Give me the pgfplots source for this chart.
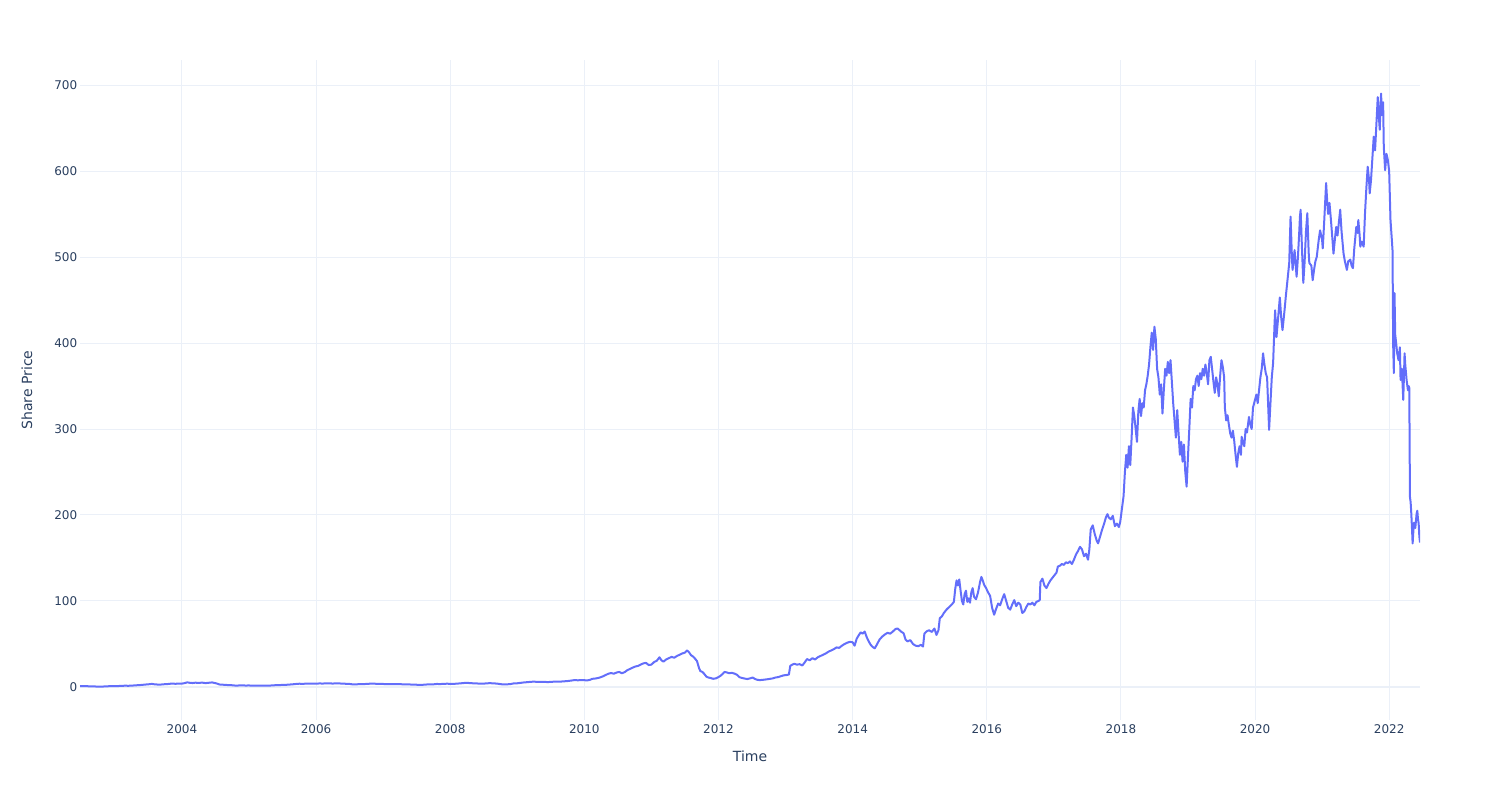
\documentclass[border=0pt]{standalone}
\usepackage{fontspec}
\setmainfont{DejaVu Sans}
\usepackage{pgfplots}
\pgfplotsset{compat=1.18}
\definecolor{linec}{RGB}{99,110,250}
\definecolor{gridc}{RGB}{235,240,248}
\definecolor{textc}{RGB}{42,63,95}
\begin{document}
\begin{tikzpicture}
\path[use as bounding box] (0,0) rectangle (750pt,400pt);
\begin{axis}[
 at={(40pt,40pt)}, anchor=south west, scale only axis, width=670pt, height=330pt,
 xmin=2002.48, xmax=2022.46, ymin=-38.4, ymax=729.1,
 axis line style={draw=none}, major tick length=0pt,
 xtick={2004,2006,...,2022}, ytick={0,100,...,700},
 xmajorgrids, ymajorgrids, major grid style={draw=gridc, line width=0.5pt},
 extra y ticks={0}, extra y tick labels={}, extra y tick style={major grid style={draw=gridc, line width=1pt}},
 /pgf/number format/1000 sep={}, /pgf/number format/assume math mode=true,
 tick label style={font=\fontsize{6}{7}\selectfont, text=textc},
 xticklabel style={anchor=north, inner sep=0pt, yshift=-1.9pt},
 yticklabel style={anchor=east, inner sep=0pt, xshift=-1.2pt},
 xlabel={Time}, ylabel={Share Price},
 every axis x label/.style={at={(axis description cs:0.5,-0.0545)}, anchor=center, font=\fontsize{7}{8}\selectfont, text=textc},
 every axis y label/.style={at={(axis description cs:-0.0396,0.5)}, rotate=90, anchor=center, font=\fontsize{7}{8}\selectfont, text=textc},
]
\addplot[linec, line width=1pt, line join=round, mark=none] table {
x y
2002.48 1.15
2002.52 1.05
2002.56 0.95
2002.60 0.85
2002.65 0.80
2002.70 0.60
2002.75 0.45
2002.80 0.50
2002.85 0.60
2002.90 0.85
2002.95 0.90
2003.00 0.95
2003.05 1.10
2003.10 1.30
2003.15 1.50
2003.20 1.40
2003.25 1.55
2003.30 1.90
2003.35 2.10
2003.40 2.40
2003.45 2.80
2003.50 3.10
2003.55 3.60
2003.60 3.00
2003.65 2.80
2003.70 2.90
2003.75 3.30
2003.80 3.50
2003.85 4.00
2003.90 3.70
2003.95 3.90
2004.00 3.95
2004.04 4.50
2004.08 5.40
2004.12 4.80
2004.16 4.60
2004.20 5.00
2004.25 4.70
2004.30 5.10
2004.35 4.50
2004.40 4.90
2004.45 5.30
2004.50 4.40
2004.53 3.80
2004.56 2.90
2004.60 2.70
2004.65 2.40
2004.70 2.20
2004.75 2.00
2004.80 1.60
2004.85 1.75
2004.90 1.80
2004.95 1.70
2005.00 1.75
2005.05 1.60
2005.10 1.50
2005.15 1.55
2005.20 1.65
2005.25 1.50
2005.30 1.60
2005.35 1.85
2005.40 2.10
2005.45 2.20
2005.50 2.40
2005.55 2.50
2005.60 2.80
2005.65 3.10
2005.70 3.50
2005.75 3.80
2005.80 3.60
2005.85 3.90
2005.90 3.80
2005.95 3.95
2006.00 3.90
2006.05 4.10
2006.10 4.00
2006.15 4.20
2006.20 4.15
2006.25 4.00
2006.30 4.20
2006.35 4.10
2006.40 3.90
2006.45 3.70
2006.50 3.50
2006.55 3.00
2006.60 3.10
2006.65 3.30
2006.70 3.40
2006.75 3.50
2006.80 3.80
2006.85 3.90
2006.90 3.70
2006.95 3.75
2007.00 3.50
2007.05 3.30
2007.10 3.40
2007.15 3.20
2007.20 3.30
2007.25 3.25
2007.30 3.10
2007.35 3.00
2007.40 2.90
2007.45 2.80
2007.50 2.60
2007.55 2.40
2007.60 2.60
2007.65 2.90
2007.70 3.00
2007.75 3.10
2007.80 3.50
2007.85 3.40
2007.90 3.60
2007.95 3.80
2008.00 3.70
2008.05 3.60
2008.10 3.90
2008.15 4.20
2008.20 4.60
2008.25 4.90
2008.30 4.40
2008.35 4.30
2008.40 4.10
2008.45 3.80
2008.50 3.90
2008.55 4.30
2008.60 4.40
2008.65 4.20
2008.70 3.90
2008.75 3.30
2008.80 2.90
2008.85 3.10
2008.90 3.40
2008.95 4.20
2009.00 4.30
2009.05 4.80
2009.10 5.30
2009.15 5.60
2009.20 6.00
2009.25 6.20
2009.30 5.90
2009.35 5.80
2009.40 6.00
2009.45 5.70
2009.50 5.90
2009.55 6.20
2009.60 6.10
2009.65 6.30
2009.70 6.60
2009.75 6.90
2009.80 7.40
2009.85 8.00
2009.90 7.80
2009.95 7.90
2010.00 7.90
2010.04 7.60
2010.08 8.20
2010.12 9.50
2010.16 9.80
2010.20 10.40
2010.24 11.20
2010.28 12.50
2010.32 14.00
2010.36 15.50
2010.40 16.20
2010.44 15.40
2010.48 16.80
2010.52 17.50
2010.56 16.00
2010.60 17.20
2010.64 19.50
2010.68 21.00
2010.72 22.50
2010.76 23.80
2010.80 24.50
2010.84 26.00
2010.88 27.50
2010.92 28.00
2010.96 25.50
2011.00 26.00
2011.04 29.00
2011.08 30.50
2011.12 34.50
2011.15 31.00
2011.18 29.50
2011.22 32.00
2011.26 33.50
2011.30 35.00
2011.34 34.00
2011.38 36.00
2011.42 37.50
2011.46 39.00
2011.50 40.00
2011.53 42.50
2011.56 40.50
2011.59 37.00
2011.62 35.50
2011.65 33.00
2011.68 30.00
2011.71 22.00
2011.73 18.50
2011.76 17.50
2011.79 15.00
2011.82 12.00
2011.85 11.00
2011.88 10.50
2011.92 9.50
2011.96 10.00
2012.00 11.50
2012.03 13.00
2012.06 15.00
2012.09 17.50
2012.12 17.00
2012.16 16.00
2012.20 16.50
2012.24 15.50
2012.28 14.00
2012.31 11.50
2012.35 10.50
2012.39 9.80
2012.43 9.20
2012.47 10.00
2012.51 11.00
2012.54 9.50
2012.57 8.50
2012.61 8.00
2012.65 8.20
2012.69 8.60
2012.73 9.00
2012.77 9.50
2012.81 10.00
2012.85 11.00
2012.89 11.50
2012.93 12.50
2012.97 13.50
2013.02 14.00
2013.05 14.50
2013.07 24.50
2013.10 26.00
2013.13 27.00
2013.17 26.00
2013.21 26.50
2013.25 25.00
2013.29 29.00
2013.32 32.50
2013.36 31.00
2013.40 33.50
2013.44 32.00
2013.48 34.50
2013.52 36.00
2013.56 37.50
2013.60 39.00
2013.64 41.00
2013.68 42.50
2013.72 44.00
2013.76 46.00
2013.80 45.50
2013.84 48.00
2013.88 50.00
2013.92 51.50
2013.96 52.50
2014.00 52.00
2014.03 48.00
2014.06 56.00
2014.09 60.00
2014.12 63.50
2014.15 62.00
2014.18 64.50
2014.21 58.00
2014.24 53.00
2014.27 49.00
2014.30 46.50
2014.33 45.00
2014.36 49.00
2014.40 55.00
2014.44 58.50
2014.48 61.00
2014.52 63.00
2014.56 62.00
2014.60 64.50
2014.64 67.50
2014.67 68.00
2014.70 66.00
2014.73 64.00
2014.76 62.50
2014.79 55.00
2014.82 53.00
2014.86 54.50
2014.90 50.00
2014.94 48.00
2014.98 47.50
2015.02 49.00
2015.05 47.00
2015.07 62.00
2015.10 64.50
2015.14 66.00
2015.18 64.00
2015.22 68.00
2015.25 60.50
2015.28 66.00
2015.30 80.00
2015.33 82.00
2015.36 86.00
2015.40 90.00
2015.44 93.00
2015.48 96.00
2015.51 99.00
2015.53 114.00
2015.55 124.00
2015.57 118.00
2015.59 125.00
2015.61 112.00
2015.63 100.00
2015.65 96.00
2015.67 108.00
2015.69 112.00
2015.71 99.00
2015.73 103.00
2015.75 98.00
2015.77 110.00
2015.79 115.00
2015.81 105.00
2015.84 102.00
2015.87 110.00
2015.90 122.00
2015.92 128.00
2015.94 124.00
2015.96 119.00
2015.99 115.00
2016.02 110.00
2016.05 106.00
2016.08 92.00
2016.11 84.00
2016.14 91.00
2016.17 97.00
2016.20 95.00
2016.23 102.00
2016.26 108.00
2016.29 100.00
2016.32 92.00
2016.35 90.00
2016.38 96.00
2016.41 101.00
2016.44 94.00
2016.47 98.00
2016.50 96.00
2016.53 86.00
2016.56 88.00
2016.59 93.00
2016.62 97.00
2016.65 96.00
2016.68 98.00
2016.71 95.00
2016.74 99.00
2016.77 100.00
2016.79 101.00
2016.80 122.00
2016.83 126.00
2016.86 118.00
2016.89 115.00
2016.92 120.00
2016.95 124.00
2016.98 127.00
2017.01 130.00
2017.04 133.00
2017.06 140.00
2017.09 141.00
2017.12 143.00
2017.15 142.00
2017.18 145.00
2017.21 144.00
2017.24 146.00
2017.27 143.00
2017.30 148.00
2017.33 154.00
2017.36 158.00
2017.39 163.00
2017.42 160.00
2017.45 152.00
2017.48 155.00
2017.51 148.00
2017.53 160.00
2017.55 183.00
2017.58 188.00
2017.61 178.00
2017.64 170.00
2017.66 167.00
2017.69 175.00
2017.72 183.00
2017.75 190.00
2017.78 198.00
2017.80 201.00
2017.82 197.00
2017.85 195.00
2017.88 199.00
2017.91 187.00
2017.94 190.00
2017.97 186.00
2017.99 192.00
2018.02 210.00
2018.04 222.00
2018.06 250.00
2018.08 270.00
2018.10 255.00
2018.12 280.00
2018.14 258.00
2018.16 290.00
2018.18 325.00
2018.20 315.00
2018.22 300.00
2018.24 285.00
2018.26 320.00
2018.28 335.00
2018.30 315.00
2018.32 330.00
2018.34 325.00
2018.36 345.00
2018.38 352.00
2018.40 362.00
2018.42 375.00
2018.44 395.00
2018.46 412.00
2018.48 392.00
2018.50 419.00
2018.52 405.00
2018.54 370.00
2018.56 360.00
2018.58 340.00
2018.60 352.00
2018.62 318.00
2018.64 345.00
2018.66 370.00
2018.68 362.00
2018.70 378.00
2018.72 365.00
2018.74 380.00
2018.76 355.00
2018.78 330.00
2018.80 310.00
2018.82 290.00
2018.84 322.00
2018.86 295.00
2018.88 270.00
2018.90 285.00
2018.92 262.00
2018.94 282.00
2018.96 250.00
2018.98 233.00
2019.00 267.00
2019.02 300.00
2019.04 335.00
2019.06 325.00
2019.08 350.00
2019.10 345.00
2019.12 358.00
2019.14 362.00
2019.16 350.00
2019.18 365.00
2019.20 358.00
2019.22 370.00
2019.24 362.00
2019.26 375.00
2019.28 365.00
2019.30 352.00
2019.32 380.00
2019.34 384.00
2019.36 370.00
2019.38 355.00
2019.40 342.00
2019.42 360.00
2019.44 352.00
2019.46 338.00
2019.48 362.00
2019.50 380.00
2019.52 372.00
2019.54 360.00
2019.55 325.00
2019.57 310.00
2019.59 316.00
2019.61 305.00
2019.63 295.00
2019.65 290.00
2019.67 298.00
2019.69 286.00
2019.71 270.00
2019.73 256.00
2019.75 272.00
2019.77 280.00
2019.79 270.00
2019.80 291.00
2019.82 285.00
2019.84 280.00
2019.86 300.00
2019.88 296.00
2019.91 314.00
2019.93 305.00
2019.95 300.00
2019.97 325.00
2020.00 334.00
2020.02 340.00
2020.04 330.00
2020.06 345.00
2020.08 360.00
2020.10 370.00
2020.12 388.00
2020.14 375.00
2020.16 365.00
2020.18 360.00
2020.21 299.00
2020.23 330.00
2020.25 360.00
2020.27 377.00
2020.29 420.00
2020.30 438.00
2020.32 407.00
2020.34 425.00
2020.37 453.00
2020.39 430.00
2020.41 415.00
2020.44 438.00
2020.46 455.00
2020.48 470.00
2020.51 493.00
2020.53 547.00
2020.55 500.00
2020.56 485.00
2020.58 500.00
2020.59 508.00
2020.62 477.00
2020.64 500.00
2020.66 530.00
2020.67 547.00
2020.68 555.00
2020.70 510.00
2020.72 470.00
2020.74 495.00
2020.76 530.00
2020.78 551.00
2020.80 505.00
2020.81 493.00
2020.84 490.00
2020.86 473.00
2020.88 485.00
2020.90 495.00
2020.92 500.00
2020.95 520.00
2020.97 531.00
2021.00 520.00
2021.01 510.00
2021.03 539.00
2021.06 586.00
2021.08 560.00
2021.09 550.00
2021.11 563.00
2021.13 545.00
2021.15 525.00
2021.17 504.00
2021.19 520.00
2021.21 535.00
2021.23 525.00
2021.25 540.00
2021.27 555.00
2021.29 530.00
2021.32 504.00
2021.34 495.00
2021.37 485.00
2021.39 495.00
2021.42 497.00
2021.44 490.00
2021.46 487.00
2021.48 510.00
2021.51 535.00
2021.53 528.00
2021.54 543.00
2021.56 525.00
2021.57 512.00
2021.59 518.00
2021.62 512.00
2021.64 551.00
2021.66 580.00
2021.68 605.00
2021.70 590.00
2021.71 574.00
2021.73 590.00
2021.75 615.00
2021.77 640.00
2021.79 624.00
2021.81 655.00
2021.83 686.00
2021.84 670.00
2021.86 648.00
2021.87 675.00
2021.88 690.00
2021.89 665.00
2021.91 680.00
2021.92 628.00
2021.94 601.00
2021.96 620.00
2021.98 613.00
2022.00 600.00
2022.02 543.00
2022.04 520.00
2022.05 508.00
2022.06 397.00
2022.07 365.00
2022.08 458.00
2022.09 410.00
2022.10 403.00
2022.12 388.00
2022.14 380.00
2022.16 395.00
2022.17 357.00
2022.19 370.00
2022.21 334.00
2022.22 360.00
2022.23 388.00
2022.24 375.00
2022.26 357.00
2022.28 345.00
2022.29 350.00
2022.30 348.00
2022.31 221.00
2022.32 215.00
2022.33 202.00
2022.34 185.00
2022.35 167.00
2022.36 180.00
2022.37 191.00
2022.39 185.00
2022.41 202.00
2022.42 205.00
2022.43 195.00
2022.44 190.00
2022.45 175.00
2022.46 168.00
};
\end{axis}
\end{tikzpicture}
\end{document}
